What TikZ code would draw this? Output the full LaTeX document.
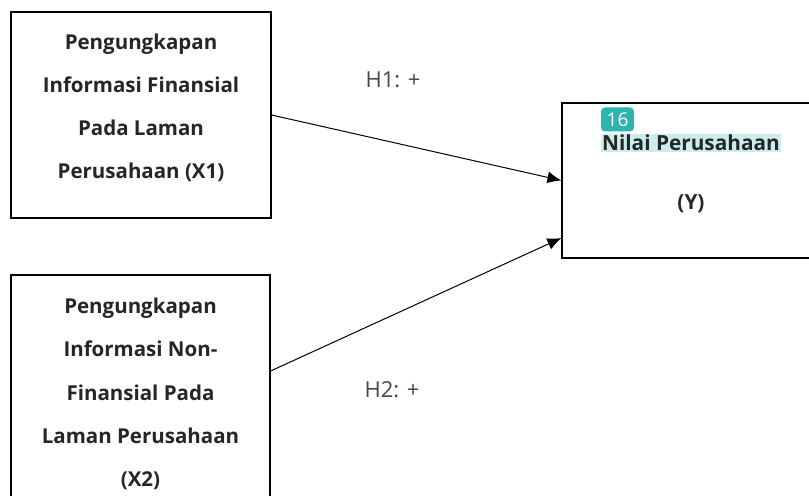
\documentclass[tikz,border=0pt]{standalone}
\usepackage{fontspec}
\setmainfont{Open Sans}
\usepackage{xcolor}
\usetikzlibrary{arrows.meta, positioning, calc}
\definecolor{inkgrey}{HTML}{262626}
\definecolor{badgeteal}{HTML}{2DB4AE}
\definecolor{marklight}{HTML}{CBEEEC}

\begin{document}
\begin{tikzpicture}[x=0.5pt,y=-0.5pt,
  box/.style={draw, line width=0.6pt, inner sep=0pt},
  boxtext/.style={inner sep=0pt, align=center, text=inkgrey,
    font=\fontsize{10.25}{21.6}\selectfont\bfseries},
  ytext/.style={inner sep=0.6pt, text=inkgrey, font=\fontsize{10.4}{12}\selectfont\bfseries},
  hyp/.style={text=inkgrey!85, font=\fontsize{11}{13}\selectfont},
  link/.style={-{Latex[length=7pt,width=6pt]}, line width=0.5pt}]
\useasboundingbox (0,0) rectangle (809,496);
\clip (0,0) rectangle (809,496);

\node[box, minimum width=130pt, minimum height=103pt] (X1) at (141,115) {};
\node[box, minimum width=129.5pt, minimum height=118pt] (X2) at (140.5,393) {};
\node[box, minimum width=129pt, minimum height=77.5pt] (Y) at (691,180.5) {};

\node[boxtext] (X1txt) at (141,108)
  {Pengungkapan\\Informasi Finansial\\Pada Laman\\Perusahaan (X1)};
\node[boxtext] (X2txt) at (140.5,394)
  {Pengungkapan\\Informasi Non-\\Finansial Pada\\Laman Perusahaan\\(X2)};

\node[ytext, fill=marklight] (Yname) at (691,143) {Nilai Perusahaan};
\node[ytext] (Ylab) at (691,204) {(Y)};
\node[fill=badgeteal, rounded corners=2pt, text=white, inner sep=1.5pt,
  minimum width=16.5pt, minimum height=12pt, font=\fontsize{9.5}{10}\selectfont] (badge) at (617.5,119.5) {16};

\node[hyp] (H1) at (393,80) {H1: +};
\node[hyp] (H2) at (392,390) {H2: +};

\draw[link] (X1.east) -- (Y.west);
\draw[link] ($(X2.east)+(0,-22)$) -- ($(Y.west)+(0,57.5)$);
\end{tikzpicture}
\end{document}
